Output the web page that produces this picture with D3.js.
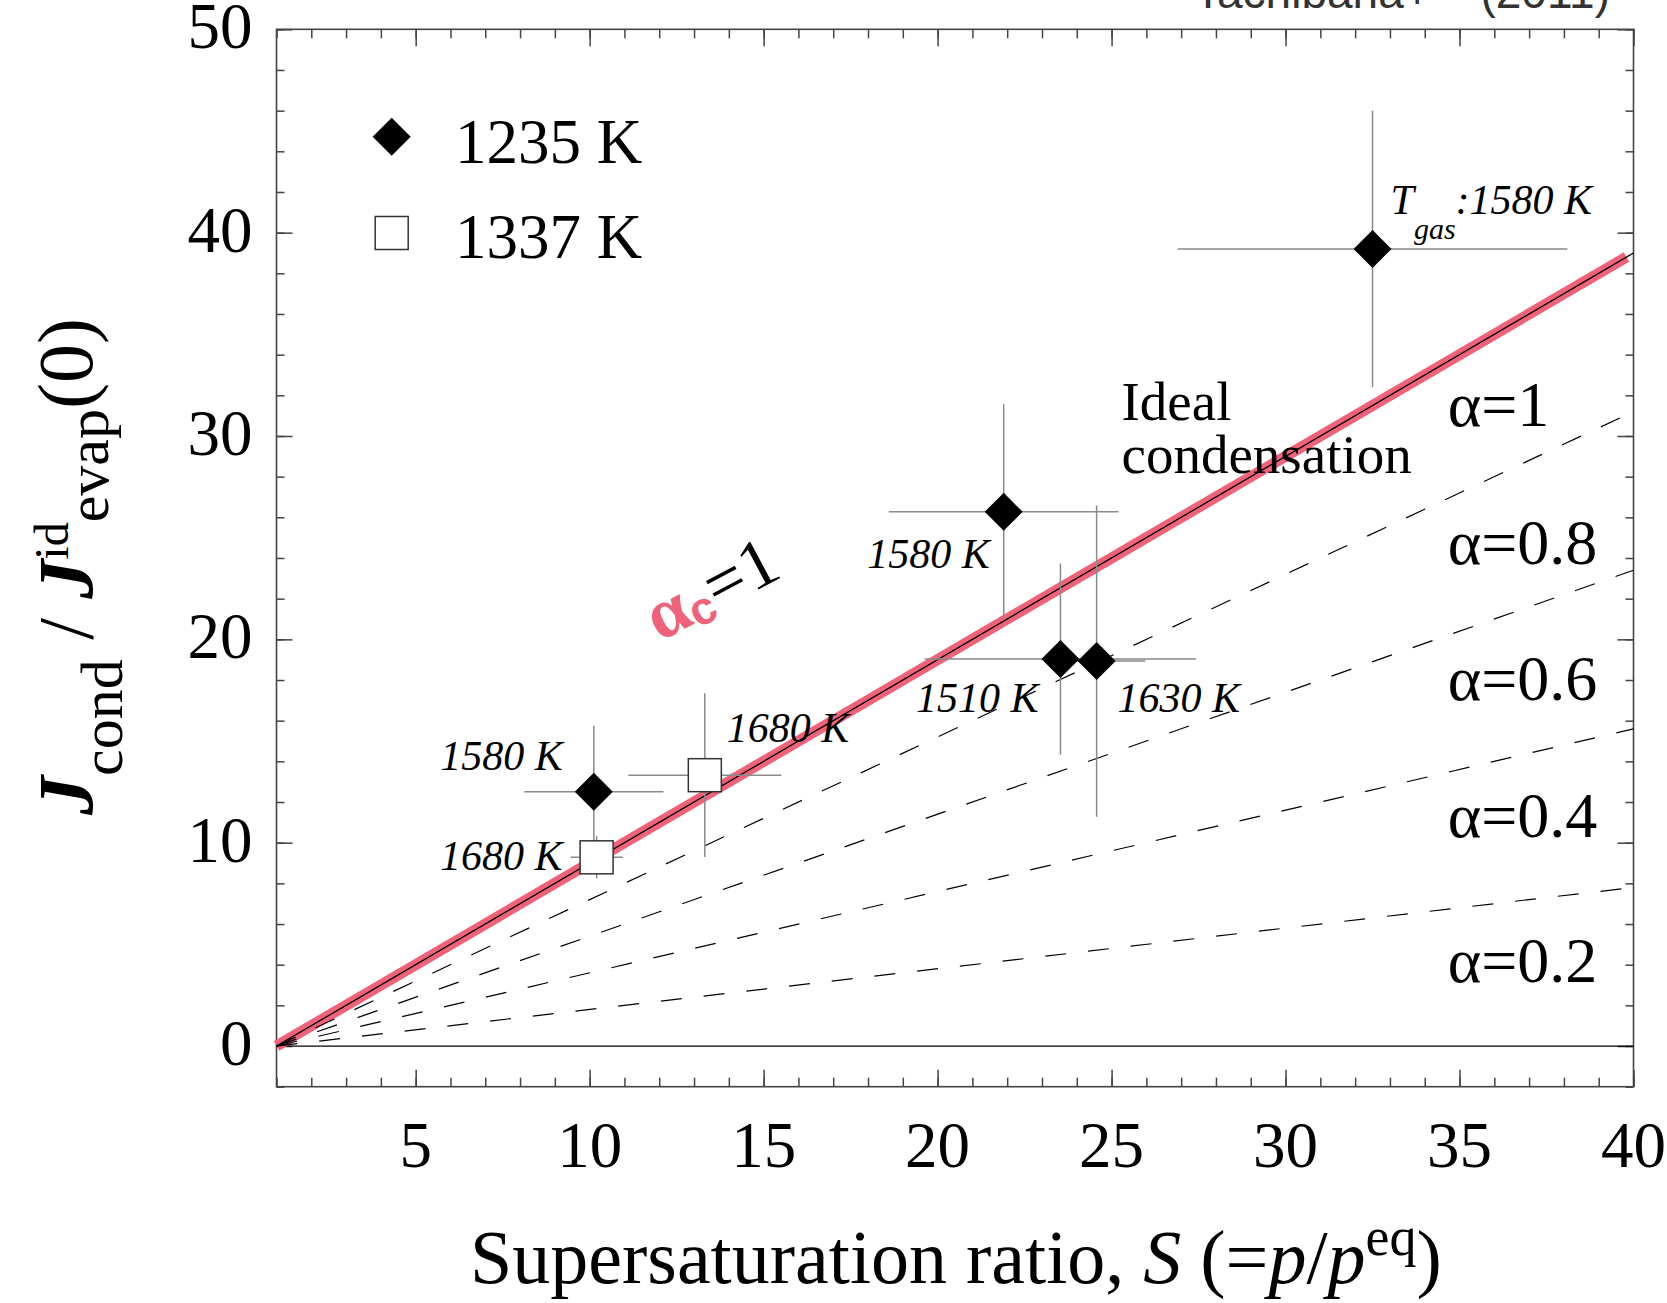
<!DOCTYPE html>
<html><head><meta charset="utf-8">
<script src="https://cdn.jsdelivr.net/npm/d3@7"></script>
<style>
body{margin:0;background:#fff}
svg{display:block}
text{font-family:"Liberation Serif","Times New Roman",serif;fill:#000}
</style>
</head><body>
<svg id="chart" width="1667" height="1303"></svg>
<script>
// ---------- data ----------
const xDomain = [1, 40];
const yDomain = [-2, 50];
const xTickLabels = [5, 10, 15, 20, 25, 30, 35, 40];
const yTickLabels = [0, 10, 20, 30, 40, 50];

const seriesNames = ["1235 K", "1337 K"];

// 1235 K (filled diamonds)
const s1235    = [32.5, 21.9, 23.53, 24.57, 10.12];
const j1235    = [39.2, 26.27, 19.03, 18.93, 12.5];
const sErr1235 = [5.6, 3.3, 3.9, 1.4, 2.0];
const jErr1235 = [6.8, 5.3, 4.7, 7.65, 3.25];
const tgas1235 = ["1580 K", "1580 K", "1510 K", "1630 K", "1580 K"];

// 1337 K (open squares)
const s1337    = [10.2, 13.31];
const j1337    = [9.28, 13.32];
const sErr1337 = [0.75, 2.2];
const jErr1337 = [1.04, 4.03];
const tgas1337 = ["1680 K", "1680 K"];

// theory lines: endpoints
const lineStartS = 1, lineStartJ = 0;
const lineEndS = 40;
const alphaLabels = ["α=1", "α=0.8", "α=0.6", "α=0.4", "α=0.2"];
const alphaEndJ   = [39.0, 31.2, 23.4, 15.6, 7.8];
const idealEndS = 39.8, idealEndJ = 38.8;

// ---------- layout ----------
const L = 276.5, R = 1633.5, T = 29.3, B = 1086.7;
const svg = d3.select("#chart");
const x = d3.scaleLinear().domain(xDomain).range([L, R]);
const y = d3.scaleLinear().domain(yDomain).range([B, T]);

const axisCol = "#444";
const pink = "#f0627a";

// top-right citation (cut off at the top edge, as in the reference)
svg.append("text").attr("x", 1194).attr("y", 8)
  .style("font-family", "Liberation Sans, Arial, sans-serif").style("font-size", "46px").style("fill", "#333")
  .text("Tachibana+");
svg.append("text").attr("x", 1610).attr("y", 8).attr("text-anchor", "end")
  .style("font-family", "Liberation Sans, Arial, sans-serif").style("font-size", "46px").style("fill", "#333")
  .text("(2011)");

// ticks
const xMinor = d3.range(1, 41);
const yMinor = d3.range(-2, 51, 2);
function styleAxis(g) {
  g.select(".domain").remove();
  g.selectAll(".tick line").attr("stroke", axisCol).attr("stroke-width", 1.5);
  g.selectAll(".tick text").remove();
}
svg.append("g").attr("transform", `translate(0,${B})`)
  .call(d3.axisBottom(x).tickValues(xMinor).tickSizeInner(-9).tickSizeOuter(0)).call(styleAxis);
svg.append("g").attr("transform", `translate(0,${B})`)
  .call(d3.axisBottom(x).tickValues(xTickLabels).tickSizeInner(-17).tickSizeOuter(0)).call(styleAxis);
svg.append("g").attr("transform", `translate(0,${T})`)
  .call(d3.axisTop(x).tickValues(xMinor).tickSizeInner(-9).tickSizeOuter(0)).call(styleAxis);
svg.append("g").attr("transform", `translate(0,${T})`)
  .call(d3.axisTop(x).tickValues(xTickLabels).tickSizeInner(-17).tickSizeOuter(0)).call(styleAxis);
svg.append("g").attr("transform", `translate(${L},0)`)
  .call(d3.axisLeft(y).tickValues(yMinor).tickSizeInner(-8).tickSizeOuter(0)).call(styleAxis);
svg.append("g").attr("transform", `translate(${L},0)`)
  .call(d3.axisLeft(y).tickValues(yTickLabels).tickSizeInner(-16).tickSizeOuter(0)).call(styleAxis);
svg.append("g").attr("transform", `translate(${R},0)`)
  .call(d3.axisRight(y).tickValues(yMinor).tickSizeInner(-8).tickSizeOuter(0)).call(styleAxis);
svg.append("g").attr("transform", `translate(${R},0)`)
  .call(d3.axisRight(y).tickValues(yTickLabels).tickSizeInner(-16).tickSizeOuter(0)).call(styleAxis);

// frame
svg.append("rect").attr("x", L).attr("y", T).attr("width", R - L).attr("height", B - T)
  .attr("fill", "none").attr("stroke", axisCol).attr("stroke-width", 1.6);

// zero line
svg.append("line").attr("x1", L).attr("x2", R).attr("y1", y(0)).attr("y2", y(0))
  .attr("stroke", "#000").attr("stroke-width", 1.3);

// tick labels
svg.selectAll(".xl").data(xTickLabels).enter().append("text")
  .attr("x", d => x(d)).attr("y", B + 80).attr("text-anchor", "middle")
  .style("font-size", "65px").text(d => d);
svg.selectAll(".yl").data(yTickLabels).enter().append("text")
  .attr("x", L - 24).attr("y", d => y(d) + 19).attr("text-anchor", "end")
  .style("font-size", "65px").text(d => d);

// axis titles
const xt = svg.append("text").attr("x", 470).attr("y", 1283).style("font-size", "76px");
xt.append("tspan").text("Supersaturation ratio, ");
xt.append("tspan").style("font-style", "italic").text("S");
xt.append("tspan").text(" (=");
xt.append("tspan").style("font-style", "italic").text("p");
xt.append("tspan").text("/");
xt.append("tspan").style("font-style", "italic").text("p");
xt.append("tspan").attr("dy", -28).style("font-size", "54px").text("eq");
xt.append("tspan").attr("dy", 28).text(")");

const yt = svg.append("text").attr("transform", "translate(92,815) rotate(-90)").style("font-size", "78px");
yt.append("tspan").style("font-weight", "bold").style("font-style", "italic").text("J");
yt.append("tspan").attr("dy", 30).style("font-size", "60px").text("cond");
yt.append("tspan").attr("dy", -30).text(" / ");
yt.append("tspan").style("font-weight", "bold").style("font-style", "italic").text("J");
yt.append("tspan").attr("dy", -24).style("font-size", "48px").text("id");
yt.append("tspan").attr("dy", 40).style("font-size", "60px").text("evap");
yt.append("tspan").attr("dy", -16).text("(0)");

// theory lines
const line = d3.line().x(d => x(d[0])).y(d => y(d[1]));
svg.append("path").datum([[lineStartS, lineStartJ], [idealEndS, idealEndJ]])
  .attr("d", line).attr("fill", "none").attr("stroke", pink).attr("stroke-width", 11);
alphaEndJ.forEach((ej, i) => {
  svg.append("path").datum([[lineStartS, lineStartJ], [lineEndS, ej]])
    .attr("d", line).attr("fill", "none").attr("stroke", "#000")
    .attr("stroke-width", i === 0 ? 1.3 : 1.2)
    .attr("stroke-dasharray", i === 0 ? null : "21,22");
});

// annotations
const alphaLabelS = 34.66;
const alphaLabelJ = [30.5, 23.7, 17.0, 10.3, 3.15];
alphaLabels.forEach((t, i) => {
  svg.append("text").attr("x", x(alphaLabelS)).attr("y", y(alphaLabelJ[i]))
    .style("font-size", "64px").text(t);
});
svg.append("text").attr("x", 1121.5).attr("y", 420).style("font-size", "55px").text("Ideal");
svg.append("text").attr("x", 1121.5).attr("y", 473).style("font-size", "55px").text("condensation");

const ac = svg.append("text").attr("transform", "translate(660,642) rotate(-28)");
ac.append("tspan").style("fill", pink).style("font-weight", "bold").style("font-size", "72px").text("α");
ac.append("tspan").attr("dy", 6).style("fill", pink).style("font-weight", "bold")
  .style("font-family", "Liberation Sans, Arial, sans-serif").style("font-size", "46px").text("c");
ac.append("tspan").attr("dy", -6).style("font-size", "70px").text("=1");

// error bars
const errCol = "#8a8a8a";
function errorBars(S, J, sE, jE) {
  const g = svg.append("g");
  S.forEach((s, i) => {
    g.append("line").attr("x1", x(s - sE[i])).attr("x2", x(s + sE[i]))
      .attr("y1", y(J[i])).attr("y2", y(J[i])).attr("stroke", errCol).attr("stroke-width", 1.5);
    g.append("line").attr("x1", x(s)).attr("x2", x(s))
      .attr("y1", y(J[i] - jE[i])).attr("y2", y(J[i] + jE[i])).attr("stroke", errCol).attr("stroke-width", 1.5);
  });
}
errorBars(s1235, j1235, sErr1235, jErr1235);
errorBars(s1337, j1337, sErr1337, jErr1337);

// markers
const dHalf = 19, sq = 33;
svg.selectAll(".dm").data(s1235.map((s, i) => [s, j1235[i]])).enter().append("path")
  .attr("d", d => { const cx = x(d[0]), cy = y(d[1]);
    return `M${cx},${cy - dHalf}L${cx + dHalf},${cy}L${cx},${cy + dHalf}L${cx - dHalf},${cy}Z`; })
  .attr("fill", "#000");
svg.selectAll(".sq").data(s1337.map((s, i) => [s, j1337[i]])).enter().append("rect")
  .attr("x", d => x(d[0]) - sq / 2).attr("y", d => y(d[1]) - sq / 2)
  .attr("width", sq).attr("height", sq).attr("fill", "#fff").attr("stroke", "#333").attr("stroke-width", 1.5);

// point labels (gas temperature)
const lab1235 = [[18, -35, "start"], [-14, 56, "end"], [-22, 53, "end"], [21, 51, "start"], [-31, -22, "end"]];
const lab1337 = [[-34, 13, "end"], [22, -33, "start"]];
tgas1235.forEach((t, i) => {
  const o = lab1235[i];
  const tx = svg.append("text").attr("x", x(s1235[i]) + o[0]).attr("y", y(j1235[i]) + o[1])
    .attr("text-anchor", o[2]).style("font-style", "italic").style("font-size", "42px");
  if (i === 0) {
    tx.append("tspan").text("T");
    tx.append("tspan").attr("dy", 25).style("font-size", "30px").text("gas");
    tx.append("tspan").attr("dy", -25).text(":" + t);
  } else {
    tx.text(t);
  }
});
tgas1337.forEach((t, i) => {
  const o = lab1337[i];
  svg.append("text").attr("x", x(s1337[i]) + o[0]).attr("y", y(j1337[i]) + o[1])
    .attr("text-anchor", o[2]).style("font-style", "italic").style("font-size", "42px").text(t);
});

// legend
const lg = svg.append("g");
lg.append("path").attr("d", `M391.7,${136.7 - dHalf}L${391.7 + dHalf},136.7L391.7,${136.7 + dHalf}L${391.7 - dHalf},136.7Z`).attr("fill", "#000");
lg.append("text").attr("x", 455).attr("y", 162.7).style("font-size", "63px").text(seriesNames[0]);
lg.append("rect").attr("x", 391.7 - sq / 2).attr("y", 233 - sq / 2).attr("width", sq).attr("height", sq)
  .attr("fill", "#fff").attr("stroke", "#333").attr("stroke-width", 1.5);
lg.append("text").attr("x", 455).attr("y", 258).style("font-size", "63px").text(seriesNames[1]);
</script>
</body></html>
